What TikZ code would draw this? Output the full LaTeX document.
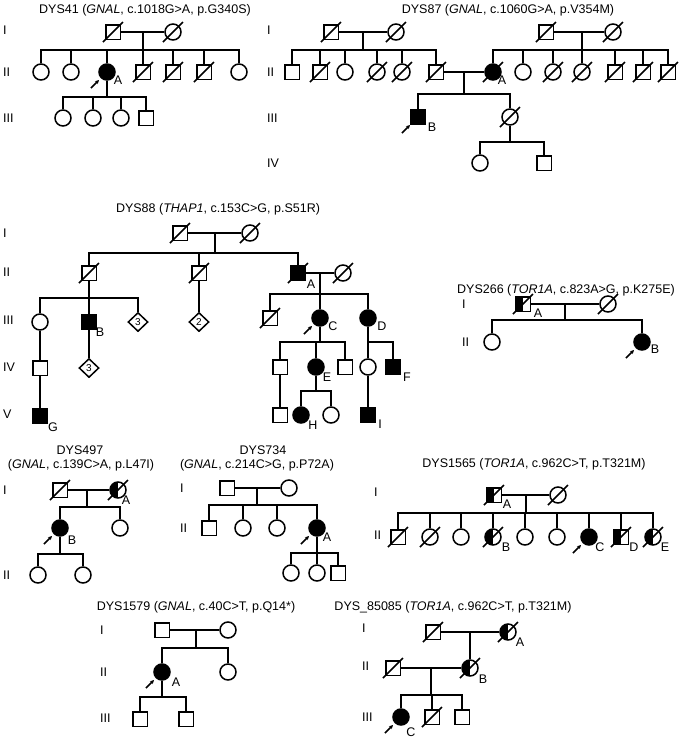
\documentclass[tikz,border=0pt]{standalone}
\usepackage{fontspec}
\setmainfont{Liberation Sans}
\usetikzlibrary{shapes.geometric,arrows.meta}
\newcommand\marr[2]{\draw[conn] (#1.east) -- (#2.west);}
\newcommand\deadmark[1]{\draw[conn] ([shift={(-10pt,-10pt)}]#1.center) -- ([shift={(10pt,10pt)}]#1.center);}
\newcommand\probarrow[1]{\draw[prob] ([shift={(-16pt,-16pt)}]#1.center) -- ([shift={(-8pt,-8pt)}]#1.center);}
\begin{document}
\begin{tikzpicture}[x=1pt,y=-1pt]
\tikzset{
  sym/.style={draw, line width=1.5pt, inner sep=0pt, fill=white},
  male/.style={sym, rectangle, minimum size=14.5pt},
  female/.style={sym, circle, minimum size=16pt},
  unk/.style={sym, diamond, minimum width=20pt, minimum height=19pt, font=\fontsize{10}{10}\selectfont},
  aff/.style={fill=black},
  half/.style={path picture={\fill[black] (path picture bounding box.south west) rectangle (path picture bounding box.north);}},
  conn/.style={line width=1.5pt},
  prob/.style={line width=1.5pt, -{Stealth[length=4pt,width=4pt]}},
  ttl/.style={font=\fontsize{12.5}{14}\selectfont, inner sep=0pt},
  gen/.style={font=\fontsize{12.5}{14}\selectfont, anchor=west, inner sep=0pt},
  lab/.style={font=\fontsize{12.5}{14}\selectfont, inner sep=0pt},
}
\useasboundingbox (0,0) rectangle (684,740);

% ================= DYS41 =================
\node[ttl] (a0) at (145,10) {DYS41 ({\itshape GNAL}, c.1018G>A, p.G340S)};
\node[gen] (ag1) at (3,30) {I};
\node[gen] (ag2) at (3,72) {II};
\node[gen] (ag3) at (3,118) {III};
\node[male] (a1) at (113,32) {};
\node[female] (a2) at (173,32) {};
\coordinate (a1m) at (143,32);
\coordinate (a1s) at (143,50);
\node[female] (a3) at (41,72) {};
\node[female] (a4) at (71,72) {};
\node[female,aff] (a5) at (107,72) {};
\node[male] (a6) at (143,72) {};
\node[male] (a7) at (173,72) {};
\node[male] (a8) at (204,72) {};
\node[female] (a9) at (239,72) {};
\node[lab] (aA) at (118,80) {A};
\coordinate (a5s) at (107,97);
\node[female] (a10) at (63,118) {};
\node[female] (a11) at (93,118) {};
\node[female] (a12) at (121,118) {};
\node[male] (a13) at (146,118) {};
\marr{a1}{a2}
\draw[conn] (a1m) -- (a1s);
\draw[conn] (a3.north) |- (a9.north |- a1s) -- (a9.north);
\foreach \nn in {a4,a5,a6,a7,a8} {\draw[conn] (\nn.north) -- (\nn.north |- a1s);}
\draw[conn] (a5.south) -- (a5s);
\draw[conn] (a10.north) |- (a13.north |- a5s) -- (a13.north);
\foreach \nn in {a11,a12} {\draw[conn] (\nn.north) -- (\nn.north |- a5s);}
\foreach \nn in {a1,a2,a6,a7,a8} {\deadmark{\nn}}
\probarrow{a5}

% ================= DYS87 =================
\node[ttl] (b0) at (508,10) {DYS87 ({\itshape GNAL}, c.1060G>A, p.V354M)};
\node[gen] (bg1) at (267,30) {I};
\node[gen] (bg2) at (267,72) {II};
\node[gen] (bg3) at (267,118) {III};
\node[gen] (bg4) at (267,163) {IV};
\node[male] (b1) at (331,32) {};
\node[female] (b2) at (396,32) {};
\coordinate (b1m) at (363,32);
\coordinate (b1s) at (363,50);
\node[male] (b3) at (292,72) {};
\node[male] (b4) at (320,72) {};
\node[female] (b5) at (345,72) {};
\node[female] (b6) at (377,72) {};
\node[female] (b7) at (402,72) {};
\node[male] (b8) at (436,72) {};
\node[male] (b9) at (546,32) {};
\node[female] (b10) at (613,32) {};
\coordinate (b9m) at (582,32);
\coordinate (b9s) at (582,50);
\node[female,aff] (b11) at (493,72) {};
\node[female] (b12) at (523,72) {};
\node[female] (b13) at (553,72) {};
\node[female] (b14) at (582,72) {};
\node[male] (b15) at (615,72) {};
\node[male] (b16) at (643,72) {};
\node[male] (b17) at (668,72) {};
\coordinate (b8m) at (464,72);
\coordinate (b8s) at (464,94);
\node[male,aff] (b18) at (418,117) {};
\node[female] (b19) at (510,117) {};
\coordinate (b19s) at (510,142);
\node[female] (b20) at (480,163) {};
\node[male] (b21) at (544,163) {};
\node[lab] (bA) at (502,80) {A};
\node[lab] (bB) at (432,127) {B};
\marr{b1}{b2}
\draw[conn] (b1m) -- (b1s);
\draw[conn] (b3.north) |- (b8.north |- b1s) -- (b8.north);
\foreach \nn in {b4,b5,b6,b7} {\draw[conn] (\nn.north) -- (\nn.north |- b1s);}
\marr{b9}{b10}
\draw[conn] (b9m) -- (b9s);
\draw[conn] (b11.north) |- (b17.north |- b9s) -- (b17.north);
\foreach \nn in {b12,b13,b14,b15,b16} {\draw[conn] (\nn.north) -- (\nn.north |- b9s);}
\marr{b8}{b11}
\draw[conn] (b8m) -- (b8s);
\draw[conn] (b18.north) |- (b19.north |- b8s) -- (b19.north);
\draw[conn] (b19.south) -- (b19s);
\draw[conn] (b20.north) |- (b21.north |- b19s) -- (b21.north);
\foreach \nn in {b1,b2,b4,b6,b7,b8,b9,b10,b11,b13,b14,b15,b16,b17,b19} {\deadmark{\nn}}
\probarrow{b18}

% ================= DYS88 =================
\node[ttl] (c0) at (218,209) {DYS88 ({\itshape THAP1}, c.153C>G, p.S51R)};
\node[gen] (cg1) at (3,233) {I};
\node[gen] (cg2) at (3,272) {II};
\node[gen] (cg3) at (3,320) {III};
\node[gen] (cg4) at (3,367) {IV};
\node[gen] (cg5) at (3,414) {V};
\node[male] (c1) at (180,233) {};
\node[female] (c2) at (250,233) {};
\coordinate (c1m) at (215,233);
\coordinate (c1s) at (215,253);
\node[male] (c3) at (89,273) {};
\node[male] (c4) at (199,273) {};
\node[male,aff] (c5) at (298,273) {};
\node[female] (c6) at (343,273) {};
\coordinate (c3s) at (89,298);
\node[female] (c7) at (40,322) {};
\node[male,aff] (c8) at (89,322) {};
\node[unk] (c9) at (138,322) {3};
\node[unk] (c10) at (199,322) {2};
\node[male] (c11) at (40,368) {};
\node[unk] (c12) at (89,368) {3};
\node[male,aff] (c13) at (40,416) {};
\node[lab] (cB) at (100,332) {B};
\node[lab] (cG) at (53,427) {G};
\node[lab] (cA) at (311,284) {A};
\coordinate (c5m) at (320,273);
\coordinate (c5s) at (320,294);
\node[male] (c14) at (270,318) {};
\node[female,aff] (c15) at (320,318) {};
\node[female,aff] (c16) at (368,318) {};
\node[lab] (cC) at (333,326) {C};
\node[lab] (cD) at (382,326) {D};
\coordinate (c15s) at (320,342);
\node[male] (c17) at (280,367) {};
\node[female,aff] (c18) at (316,367) {};
\node[male] (c19) at (345,367) {};
\node[lab] (cE) at (327,377) {E};
\coordinate (c16s) at (368,342);
\node[female] (c20) at (368,367) {};
\node[male,aff] (c21) at (393,367) {};
\node[lab] (cF) at (407,377) {F};
\node[male] (c22) at (280,415) {};
\coordinate (c18s) at (316,391);
\node[female,aff] (c23) at (301,415) {};
\node[female] (c24) at (331,415) {};
\node[lab] (cH) at (313,425) {H};
\node[male,aff] (c25) at (368,415) {};
\node[lab] (cI) at (380,424) {I};
\marr{c1}{c2}
\draw[conn] (c1m) -- (c1s);
\draw[conn] (c3.north) |- (c5.north |- c1s) -- (c5.north);
\draw[conn] (c4.north) -- (c4.north |- c1s);
\draw[conn] (c3.south) -- (c3s);
\draw[conn] (c7.north) |- (c9.north |- c3s) -- (c9.north);
\draw[conn] (c8.north) -- (c8.north |- c3s);
\draw[conn] (c4.south) -- (c10.north);
\draw[conn] (c7.south) -- (c11.north);
\draw[conn] (c8.south) -- (c12.north);
\draw[conn] (c11.south) -- (c13.north);
\marr{c5}{c6}
\draw[conn] (c5m) -- (c5s);
\draw[conn] (c14.north) |- (c16.north |- c5s) -- (c16.north);
\draw[conn] (c15.north) -- (c15.north |- c5s);
\draw[conn] (c15.south) -- (c15s);
\draw[conn] (c17.north) |- (c19.north |- c15s) -- (c19.north);
\draw[conn] (c18.north) -- (c18.north |- c15s);
\draw[conn] (c16.south) -- (c16s);
\draw[conn] (c20.north) |- (c21.north |- c16s) -- (c21.north);
\draw[conn] (c17.south) -- (c22.north);
\draw[conn] (c18.south) -- (c18s);
\draw[conn] (c23.north) |- (c24.north |- c18s) -- (c24.north);
\draw[conn] (c20.south) -- (c25.north);
\foreach \nn in {c1,c2,c3,c4,c5,c6,c14} {\deadmark{\nn}}
\probarrow{c15}

% ================= DYS266 =================
\node[ttl] (d0) at (566,290) {DYS266 ({\itshape TOR1A}, c.823A>G, p.K275E)};
\node[gen] (dg1) at (462,304) {I};
\node[gen] (dg2) at (462,342) {II};
\node[male,half] (d1) at (523,304) {};
\node[female] (d2) at (608,304) {};
\coordinate (d1m) at (565,304);
\coordinate (d1s) at (565,320);
\node[female] (d3) at (492,342) {};
\node[female,aff] (d4) at (642,342) {};
\node[lab] (dA) at (538,313) {A};
\node[lab] (dB) at (655,349) {B};
\marr{d1}{d2}
\draw[conn] (d1m) -- (d1s);
\draw[conn] (d3.north) |- (d4.north |- d1s) -- (d4.north);
\foreach \nn in {d1,d2} {\deadmark{\nn}}
\probarrow{d4}

% ================= DYS497 =================
\node[ttl] (e0) at (80,450) {DYS497};
\node[ttl] (e00) at (81,465) {({\itshape GNAL}, c.139C>A, p.L47I)};
\node[gen] (eg1) at (3,490) {I};
\node[gen] (eg2) at (3,575) {II};
\node[male] (e1) at (60,490) {};
\node[female,half] (e2) at (118,490) {};
\coordinate (e1m) at (87,490);
\coordinate (e1s) at (87,507);
\node[female,aff] (e3) at (60,528) {};
\node[female] (e4) at (120,528) {};
\node[lab] (eA) at (126,500) {A};
\node[lab] (eB) at (72,540) {B};
\coordinate (e3s) at (60,554);
\node[female] (e5) at (38,575) {};
\node[female] (e6) at (83,575) {};
\marr{e1}{e2}
\draw[conn] (e1m) -- (e1s);
\draw[conn] (e3.north) |- (e4.north |- e1s) -- (e4.north);
\draw[conn] (e3.south) -- (e3s);
\draw[conn] (e5.north) |- (e6.north |- e3s) -- (e6.north);
\foreach \nn in {e1,e2} {\deadmark{\nn}}
\probarrow{e3}

% ================= DYS734 =================
\node[ttl] (g0) at (263,450) {DYS734};
\node[ttl] (g00) at (257,465) {({\itshape GNAL}, c.214C>G, p.P72A)};
\node[gen] (gg1) at (180,488) {I};
\node[gen] (gg2) at (180,528) {II};
\node[male] (g1) at (227,488) {};
\node[female] (g2) at (289,488) {};
\coordinate (g1m) at (257,488);
\coordinate (g1s) at (257,505);
\node[male] (g3) at (209,528) {};
\node[female] (g4) at (243,528) {};
\node[female] (g5) at (277,528) {};
\node[female,aff] (g6) at (317,528) {};
\node[lab] (gA) at (327,537) {A};
\coordinate (g6s) at (317,553);
\node[female] (g7) at (291,573) {};
\node[female] (g8) at (317,573) {};
\node[male] (g9) at (338,573) {};
\marr{g1}{g2}
\draw[conn] (g1m) -- (g1s);
\draw[conn] (g3.north) |- (g6.north |- g1s) -- (g6.north);
\foreach \nn in {g4,g5} {\draw[conn] (\nn.north) -- (\nn.north |- g1s);}
\draw[conn] (g6.south) -- (g6s);
\draw[conn] (g7.north) |- (g9.north |- g6s) -- (g9.north);
\draw[conn] (g8.north) -- (g8.north |- g6s);
\probarrow{g6}

% ================= DYS1565 =================
\node[ttl] (h0) at (534,464) {DYS1565 ({\itshape TOR1A}, c.962C>T, p.T321M)};
\node[gen] (hg1) at (374,492) {I};
\node[gen] (hg2) at (374,535) {II};
\node[male,half] (h1) at (494,495) {};
\node[female] (h2) at (558,495) {};
\coordinate (h1m) at (526,495);
\coordinate (h1s) at (526,513);
\node[male] (h3) at (398,537) {};
\node[female] (h4) at (430,537) {};
\node[female] (h5) at (461,537) {};
\node[female,half] (h6) at (493,537) {};
\node[female] (h7) at (525,537) {};
\node[female] (h8) at (557,537) {};
\node[female,aff] (h9) at (589,537) {};
\node[male,half] (h10) at (621,537) {};
\node[female,half] (h11) at (653,537) {};
\node[lab] (hA) at (507,504) {A};
\node[lab] (hB) at (506,547) {B};
\node[lab] (hC) at (600,547) {C};
\node[lab] (hD) at (634,547) {D};
\node[lab] (hE) at (665,547) {E};
\marr{h1}{h2}
\draw[conn] (h1m) -- (h1s);
\draw[conn] (h3.north) |- (h11.north |- h1s) -- (h11.north);
\foreach \nn in {h4,h5,h6,h7,h8,h9,h10} {\draw[conn] (\nn.north) -- (\nn.north |- h1s);}
\foreach \nn in {h1,h2,h3,h4,h6,h10,h11} {\deadmark{\nn}}
\probarrow{h9}

% ================= DYS1579 =================
\node[ttl] (k0) at (196,607) {DYS1579 ({\itshape GNAL}, c.40C>T, p.Q14*)};
\node[gen] (kg1) at (100,630) {I};
\node[gen] (kg2) at (100,672) {II};
\node[gen] (kg3) at (100,718) {III};
\node[male] (k1) at (162,630) {};
\node[female] (k2) at (228,630) {};
\coordinate (k1m) at (196,630);
\coordinate (k1s) at (196,648);
\node[female,aff] (k3) at (162,672) {};
\node[female] (k4) at (228,672) {};
\node[lab] (kA) at (176,682) {A};
\coordinate (k3s) at (162,697);
\node[male] (k5) at (140,719) {};
\node[male] (k6) at (186,719) {};
\marr{k1}{k2}
\draw[conn] (k1m) -- (k1s);
\draw[conn] (k3.north) |- (k4.north |- k1s) -- (k4.north);
\draw[conn] (k3.south) -- (k3s);
\draw[conn] (k5.north) |- (k6.north |- k3s) -- (k6.north);
\probarrow{k3}

% ================= DYS_85085 =================
\node[ttl] (p0) at (453,607) {DYS\_85085 ({\itshape TOR1A}, c.962C>T, p.T321M)};
\node[gen] (pg1) at (362,628) {I};
\node[gen] (pg2) at (362,666) {II};
\node[gen] (pg3) at (362,717) {III};
\node[male] (p1) at (433,632) {};
\node[female,half] (p2) at (508,632) {};
\coordinate (p1m) at (470,632);
\node[female,half] (p3) at (470,668) {};
\node[male] (p4) at (393,668) {};
\coordinate (p4m) at (431,668);
\coordinate (p4s) at (431,695);
\node[female,aff] (p5) at (401,717) {};
\node[male] (p6) at (432,717) {};
\node[male] (p7) at (462,717) {};
\node[lab] (pA) at (520,642) {A};
\node[lab] (pB) at (483,679) {B};
\node[lab] (pC) at (411,732) {C};
\marr{p1}{p2}
\draw[conn] (p1m) -- (p3.north);
\marr{p4}{p3}
\draw[conn] (p4m) -- (p4s);
\draw[conn] (p5.north) |- (p7.north |- p4s) -- (p7.north);
\draw[conn] (p6.north) -- (p6.north |- p4s);
\foreach \nn in {p1,p2,p3,p4,p6} {\deadmark{\nn}}
\probarrow{p5}
\end{tikzpicture}
\end{document}
